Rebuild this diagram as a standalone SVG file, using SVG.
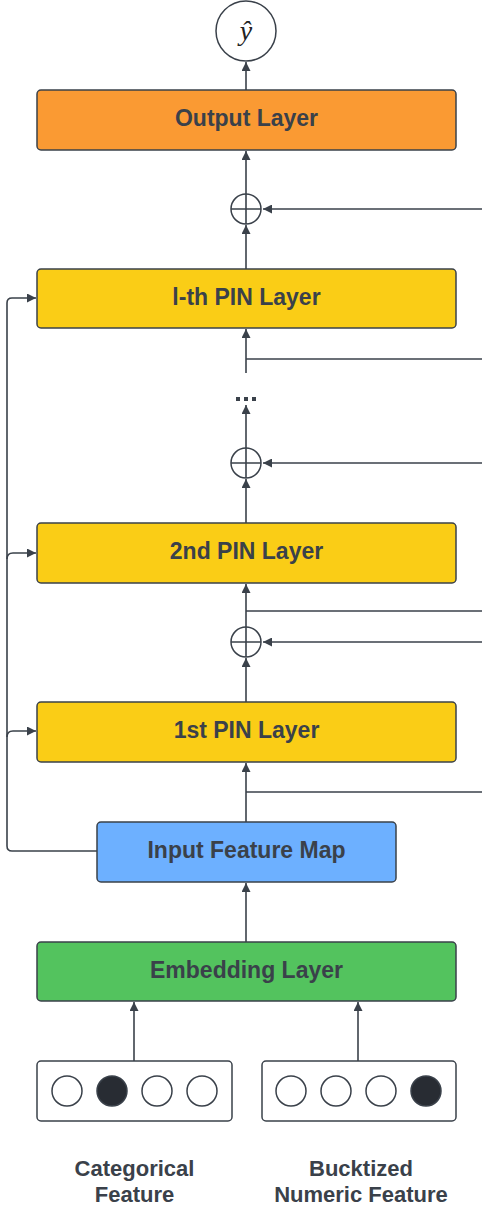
<svg xmlns="http://www.w3.org/2000/svg" width="482" height="1209" viewBox="0 0 482 1209">
<style>
.box{stroke:#3a414a;stroke-width:1.5}
.lbl{font-family:"Liberation Sans",Arial,sans-serif;font-weight:bold;font-size:23px;fill:#3a414a;text-anchor:middle}
.cap{font-family:"Liberation Sans",Arial,sans-serif;font-weight:bold;font-size:22px;fill:#3a414a;text-anchor:middle}
.ln{fill:none;stroke:#3a414a;stroke-width:1.6}
.ar{fill:none;stroke:#3a414a;stroke-width:1.6;marker-end:url(#ah)}
.sum{fill:#fff;stroke:#3a414a;stroke-width:1.5}
.dot{stroke:#3a414a;stroke-width:1.5}
</style>
<defs>
<marker id="ah" viewBox="0 0 10 10" refX="10" refY="5" markerWidth="10" markerHeight="9" markerUnits="userSpaceOnUse" orient="auto">
<path d="M0,0 L10,5 L0,10 z" fill="#3a414a"/>
</marker>
</defs>
<rect width="482" height="1209" fill="#fff"/>

<g id="connectors">
<line class="ar" x1="246" y1="90" x2="246" y2="62"/>
<line class="ar" x1="246" y1="194" x2="246" y2="151"/>
<line class="ar" x1="482" y1="209" x2="263" y2="209"/>
<line class="ar" x1="246" y1="269" x2="246" y2="225"/>
<line class="ar" x1="246" y1="373" x2="246" y2="329"/>
<line class="ln" x1="246" y1="359" x2="482" y2="359"/>
<line class="ar" x1="246" y1="448" x2="246" y2="405"/>
<line class="ar" x1="482" y1="463" x2="263" y2="463"/>
<line class="ar" x1="246" y1="523" x2="246" y2="479"/>
<line class="ar" x1="246" y1="627" x2="246" y2="584"/>
<line class="ln" x1="246" y1="611" x2="482" y2="611"/>
<line class="ar" x1="482" y1="642" x2="263" y2="642"/>
<line class="ar" x1="246" y1="702" x2="246" y2="658"/>
<line class="ar" x1="246" y1="822" x2="246" y2="763"/>
<line class="ln" x1="246" y1="792" x2="482" y2="792"/>
<line class="ar" x1="246" y1="942" x2="246" y2="883"/>
<line class="ar" x1="134" y1="1061" x2="134" y2="1002"/>
<line class="ar" x1="358" y1="1061" x2="358" y2="1002"/>
<path class="ar" d="M97,851 H12 Q7,851 7,846 V303 Q7,298 12,298 H36"/>
<path class="ar" d="M7,559 Q7,553 13,553 H36"/>
<path class="ar" d="M7,737 Q7,731 13,731 H36"/>
</g>

<g id="yhat">
<circle cx="246" cy="31" r="30" fill="#fff" stroke="#3a414a" stroke-width="1.5"/>
<text x="246" y="40" style="font-family:'Liberation Serif','Times New Roman',serif;font-style:italic;font-size:28px;fill:#222;text-anchor:middle">ŷ</text>
</g>

<g id="output-layer">
<rect class="box" x="37" y="90" width="419" height="60" rx="4" fill="#fa9a33"/>
<text class="lbl" x="246.5" y="126">Output Layer</text>
</g>

<g id="sum1"><circle class="sum" cx="246" cy="209" r="15"/><path class="ln" d="M231,209 H261 M246,194 V224"/></g>

<g id="lth-pin-layer">
<rect class="box" x="37" y="269" width="419" height="59" rx="4" fill="#facd16"/>
<text class="lbl" x="246.5" y="305">l-th PIN Layer</text>
</g>

<g id="ellipsis">
<rect x="236" y="397" width="4" height="4" fill="#3a414a"/>
<rect x="244" y="397" width="4" height="4" fill="#3a414a"/>
<rect x="252" y="397" width="4" height="4" fill="#3a414a"/>
</g>

<g id="sum2"><circle class="sum" cx="246" cy="463" r="15"/><path class="ln" d="M231,463 H261 M246,448 V478"/></g>

<g id="pin2-layer">
<rect class="box" x="37" y="523" width="419" height="60" rx="4" fill="#facd16"/>
<text class="lbl" x="246.5" y="559">2nd PIN Layer</text>
</g>

<g id="sum3"><circle class="sum" cx="246" cy="642" r="15"/><path class="ln" d="M231,642 H261 M246,627 V657"/></g>

<g id="pin1-layer">
<rect class="box" x="37" y="702" width="419" height="60" rx="4" fill="#facd16"/>
<text class="lbl" x="246.5" y="738">1st PIN Layer</text>
</g>

<g id="input-feature-map">
<rect class="box" x="97" y="822" width="299" height="60" rx="4" fill="#6db0ff"/>
<text class="lbl" x="246.5" y="858">Input Feature Map</text>
</g>

<g id="embedding-layer">
<rect class="box" x="37" y="942" width="419" height="59" rx="4" fill="#53c35e"/>
<text class="lbl" x="246.5" y="978">Embedding Layer</text>
</g>

<g id="categorical-input">
<rect class="box" x="37" y="1061" width="195" height="60" rx="4" fill="#fff"/>
<circle class="dot" cx="67" cy="1091" r="15" fill="#fff"/>
<circle class="dot" cx="112" cy="1091" r="15" fill="#282c33"/>
<circle class="dot" cx="157" cy="1091" r="15" fill="#fff"/>
<circle class="dot" cx="202" cy="1091" r="15" fill="#fff"/>
</g>

<g id="numeric-input">
<rect class="box" x="262" y="1061" width="194" height="60" rx="4" fill="#fff"/>
<circle class="dot" cx="291" cy="1091" r="15" fill="#fff"/>
<circle class="dot" cx="336" cy="1091" r="15" fill="#fff"/>
<circle class="dot" cx="381" cy="1091" r="15" fill="#fff"/>
<circle class="dot" cx="426" cy="1091" r="15" fill="#282c33"/>
</g>

<g id="captions">
<text class="cap" x="134.5" y="1176">Categorical</text>
<text class="cap" x="134.5" y="1202">Feature</text>
<text class="cap" x="361" y="1176">Bucktized</text>
<text class="cap" x="361" y="1202">Numeric Feature</text>
</g>
</svg>
